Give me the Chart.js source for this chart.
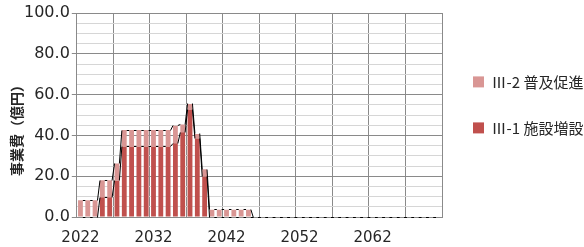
<!DOCTYPE html>
<html><head><meta charset="utf-8">
<script src="https://cdn.jsdelivr.net/npm/chart.js@4/dist/chart.umd.min.js"></script>
<style>html,body{margin:0;padding:0;background:#fff}#wrap{width:584px;height:247px}</style>
</head><body><div id="wrap"><canvas id="c" width="584" height="247"></canvas></div>
<script>
const years = ['2022','2023','2024','2025','2026','2027','2028','2029','2030','2031',
  '2032','2033','2034','2035','2036','2037','2038','2039','2040','2041',
  '2042','2043','2044','2045','2046','2047','2048','2049','2050','2051',
  '2052','2053','2054','2055','2056','2057','2058','2059','2060','2061',
  '2062','2063','2064','2065','2066','2067','2068','2069','2070','2071'];
// Ⅲ-1 施設増設
const facilityExpansion = [0,0,0,9.7,9.7,17.8,34.4,34.4,34.4,34.4,
  34.4,34.4,34.4,36.1,41.5,52.5,38.5,19.7,0,0,
  0,0,0,0,0,0,0,0,0,0,
  0,0,0,0,0,0,0,0,0,0,
  0,0,0,0,0,0,0,0,0,0];
// Ⅲ-2 普及促進
const promotion = [8.2,8.2,8.2,8.3,8.3,8.4,8.2,8.2,8.2,8.2,
  8.2,8.2,8.2,8.6,3.9,2.9,2.2,3.7,3.6,3.6,
  3.6,3.6,3.6,3.6,0,0,0,0,0,0,
  0,0,0,0,0,0,0,0,0,0,
  0,0,0,0,0,0,0,0,0,0];
const seriesNames = ['Ⅲ-1 施設増設', 'Ⅲ-2 普及促進'];
const yAxisTitle = '事業費（億円）';

const MAJOR = '#8a8a8a', MINOR = '#d6d6d6', TEXT = '#262626';

const seriesLines = {
  id: 'seriesLines',
  afterDatasetsDraw(chart) {
    const ctx = chart.ctx;
    const al = v => Math.round(v - 0.5) + 0.5;
    ctx.save();
    ctx.strokeStyle = '#000';
    ctx.lineWidth = 1;
    chart.data.datasets.forEach((ds, di) => {
      const els = chart.getDatasetMeta(di).data;
      ctx.beginPath();
      for (let j = 0; j < els.length - 1; j++) {
        const a = els[j], b = els[j + 1];
        ctx.moveTo(a.x + a.width / 2, al(a.y));
        ctx.lineTo(b.x - b.width / 2, al(b.y));
      }
      ctx.stroke();
    });
    ctx.restore();
  }
};

const yTitle = {
  id: 'yTitle',
  afterDraw(chart) {
    const ctx = chart.ctx, ca = chart.chartArea;
    ctx.save();
    ctx.translate(17, (ca.top + ca.bottom) / 2 + 12);
    ctx.rotate(-Math.PI / 2);
    ctx.font = 'bold 14px "Noto Sans CJK JP"';
    ctx.fillStyle = TEXT;
    ctx.textAlign = 'center';
    ctx.textBaseline = 'middle';
    ctx.fillText(yAxisTitle, 0, 0);
    ctx.restore();
  }
};

new Chart(document.getElementById('c'), {
  type: 'bar',
  data: {
    labels: years,
    datasets: [
      { label: seriesNames[0], data: facilityExpansion, backgroundColor: '#C0504D', borderWidth: 0,
        barPercentage: 0.66, categoryPercentage: 1.0 },
      { label: seriesNames[1], data: promotion, backgroundColor: '#D99694', borderWidth: 0,
        barPercentage: 0.66, categoryPercentage: 1.0 }
    ]
  },
  options: {
    responsive: false,
    animation: false,
    layout: { padding: { left: 22, top: 13, right: 0, bottom: 0 } },
    plugins: {
      tooltip: { enabled: false },
      legend: {
        position: 'right',
        align: 'start',
        reverse: true,
        maxWidth: 142,
        title: { display: true, text: '', padding: { top: 16, bottom: 0 } },
        labels: {
          boxWidth: 11, boxHeight: 11, padding: 31, color: TEXT,
          font: { family: '"Noto Sans CJK JP"', size: 15 }
        }
      }
    },
    scales: {
      x: {
        stacked: true,
        afterFit: s => { s.height = 30; },
        grid: {
          offset: true,
          drawTicks: false,
          color: c => (c.index === undefined || c.index % 5 === 0) ? MAJOR : 'rgba(0,0,0,0)'
        },
        border: { color: MAJOR },
        ticks: {
          autoSkip: false, maxRotation: 0, minRotation: 0, padding: 12, color: TEXT,
          font: { family: '"DejaVu Sans"', size: 15 },
          callback: function (v, i) { return i % 10 === 0 ? this.getLabelForValue(v) : ''; }
        }
      },
      y: {
        stacked: true,
        min: 0, max: 100,
        grid: {
          color: c => (c.tick && c.tick.value % 20 === 0) ? MAJOR : MINOR,
          tickColor: c => (c.tick && c.tick.value % 20 === 0) ? MAJOR : 'rgba(0,0,0,0)',
          tickLength: 5
        },
        border: { color: MAJOR },
        ticks: {
          stepSize: 5, autoSkip: false, padding: 2, color: TEXT,
          font: { family: '"DejaVu Sans"', size: 16 },
          callback: v => v % 20 === 0 ? v.toFixed(1) : ''
        }
      }
    }
  },
  plugins: [seriesLines, yTitle]
});
</script>
</body></html>
